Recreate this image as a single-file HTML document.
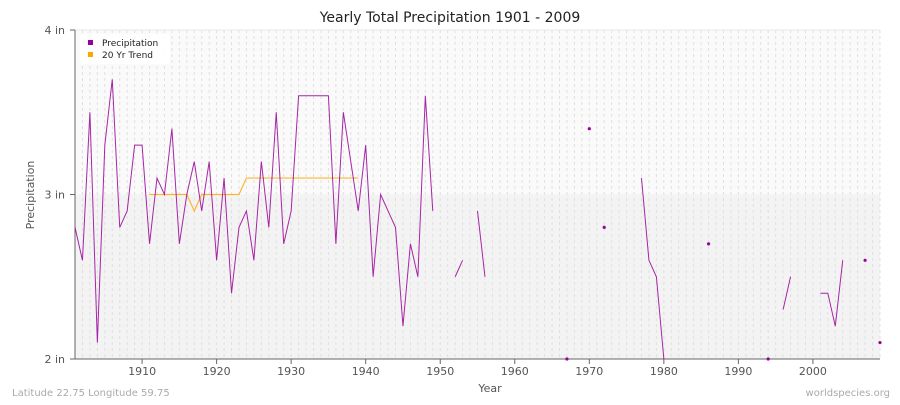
<!DOCTYPE html>
<html><head><meta charset="utf-8"><style>
body{margin:0;background:#fff;font-family:"Liberation Sans",sans-serif}
svg text{font-family:"DejaVu Sans","Liberation Sans",sans-serif}
</style></head><body>
<svg id="chart" width="900" height="400" xmlns="http://www.w3.org/2000/svg">
<text x="450" y="22" text-anchor="middle" font-size="14" fill="#222">Yearly Total Precipitation 1901 - 2009</text>
<g id="plot"></g>
<text x="12" y="396" font-size="10" fill="#aaa">Latitude 22.75 Longitude 59.75</text>
<text x="890" y="396" text-anchor="end" font-size="10" fill="#aaa">worldspecies.org</text>
<text x="490" y="392" text-anchor="middle" font-size="11" fill="#555">Year</text>
<text transform="translate(34,195) rotate(-90)" text-anchor="middle" font-size="11" fill="#555">Precipitation</text>
<g>
<rect x="80" y="34" width="90" height="30" rx="3" fill="#fff" opacity="0.9"/>
<rect x="88" y="40" width="5" height="5" fill="#990099"/>
<text x="102" y="46" font-size="9" fill="#222">Precipitation</text>
<rect x="88" y="52" width="5" height="5" fill="#ffa500"/>
<text x="102" y="58" font-size="9" fill="#222">20 Yr Trend</text>
</g>
</svg>
<script>
const years=[];for(let y=1901;y<=2009;y++)years.push(y);
const precip=[2.8,2.6,3.5,2.1,3.3,3.7,2.8,2.9,3.3,3.3,
2.7,3.1,3.0,3.4,2.7,3.0,3.2,2.9,3.2,2.6,
3.1,2.4,2.8,2.9,2.6,3.2,2.8,3.5,2.7,2.9,
3.6,3.6,3.6,3.6,3.6,2.7,3.5,3.2,2.9,3.3,
2.5,3.0,2.9,2.8,2.2,2.7,2.5,3.6,2.9,null,
null,2.5,2.6,null,2.9,2.5,null,null,null,null,
null,null,null,null,null,null,2.0,null,null,3.4,
null,2.8,null,null,null,null,3.1,2.6,2.5,2.0,
null,null,null,null,null,2.7,null,null,null,null,
null,null,null,2.0,null,2.3,2.5,null,null,null,
2.4,2.4,2.2,2.6,null,null,2.6,null,2.1];
const trendYears=[];for(let y=1911;y<=1939;y++)trendYears.push(y);
const trend=[3.0,3.0,3.0,3.0,3.0,3.0,2.9,3.0,3.0,3.0,3.0,3.0,3.0,3.1,3.1,3.1,3.1,3.1,3.1,3.1,3.1,3.1,3.1,3.1,3.1,3.1,3.1,3.1,3.1];
const xTicks=[1910,1920,1930,1940,1950,1960,1970,1980,1990,2000];
const yTicks=[2,3,4];
const X0=75,X1=880,Y0=359,Y1=30;
const xs=y=>X0+(y-1901)*(X1-X0)/(2009-1901);
const ys=v=>Y0-(v-2)*(Y0-Y1)/2;
const NS="http://www.w3.org/2000/svg";
const g=document.getElementById('plot');
function mk(t,a){const e=document.createElementNS(NS,t);for(const k in a)e.setAttribute(k,a[k]);g.appendChild(e);return e;}
let e=mk('rect',{x:X0,y:Y1,width:X1-X0,height:ys(3)-Y1,fill:'#fafafa'});


e=mk('rect',{x:X0,y:ys(3),width:X1-X0,height:Y0-ys(3),fill:'#f3f3f3'});


years.forEach(y=>{const l=mk('line',{x1:xs(y),x2:xs(y),y1:Y1,y2:Y0,stroke:'#e0e0e0','stroke-dasharray':'3,3','stroke-width':1});

});
e=mk('line',{x1:X0,x2:X1,y1:Y1,y2:Y1,stroke:'#e8e8e8'});


e=mk('line',{x1:X0,x2:X0,y1:Y1,y2:Y0,stroke:'#666'});


e=mk('line',{x1:X0,x2:X1,y1:Y0,y2:Y0,stroke:'#666'});


yTicks.forEach(v=>{const t=mk('line',{x1:X0-5,x2:X0,y1:ys(v),y2:ys(v),stroke:'#666'});


const tx=mk('text',{x:X0-10,y:ys(v)+4,'text-anchor':'end','font-size':11,fill:'#555'});tx.textContent=v+' in';

});
xTicks.forEach(v=>{const t=mk('line',{x1:xs(v),x2:xs(v),y1:Y0,y2:Y0+5,stroke:'#666'});


const tx=mk('text',{x:xs(v),y:Y0+16,'text-anchor':'middle','font-size':11,fill:'#555'});tx.textContent=v;

});
let d=trendYears.map((y,i)=>(i?'L':'M')+xs(y)+','+ys(trend[i])).join('');
e=mk('path',{d:d,fill:'none',stroke:'#ffa500','stroke-width':1.2,opacity:0.8});


let segs=[],cur=[];
precip.forEach((v,i)=>{if(v==null){if(cur.length)segs.push(cur);cur=[];}else cur.push(i);});
if(cur.length)segs.push(cur);
segs.forEach(s=>{
 if(s.length===1){const c=mk('circle',{cx:xs(years[s[0]]),cy:ys(precip[s[0]]),r:1.6,fill:'#990099'});
 
 }
 else{const p=mk('path',{d:s.map((i,k)=>(k?'L':'M')+xs(years[i])+','+ys(precip[i])).join(''),fill:'none',stroke:'#990099','stroke-width':1,opacity:0.85});
 
 }
});
</script>
</body></html>
